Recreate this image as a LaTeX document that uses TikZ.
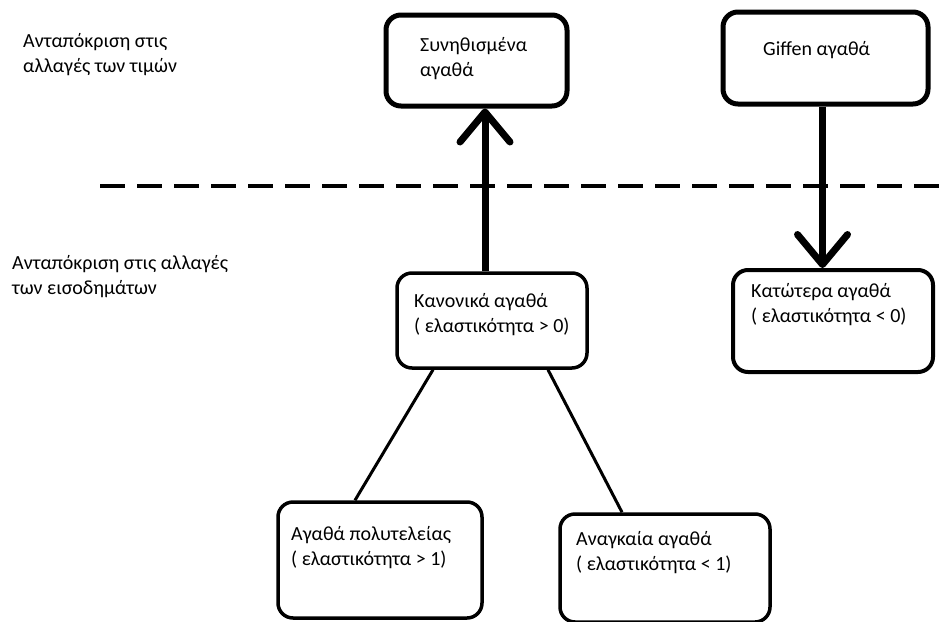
\documentclass[tikz,border=0pt]{standalone}
\usepackage{fontspec}
\setmainfont{Carlito}
\usetikzlibrary{arrows.meta,calc}
\begin{document}
\begin{tikzpicture}[x=1pt,y=-1pt,
  box/.style={draw=black, rounded corners=15pt, minimum width=#1, inner sep=0pt},
  thickbox/.style={line width=5pt},
  thinbox/.style={line width=3.5pt},
  lbl/.style={anchor=base west, align=left, inner sep=0pt, text=black,
    font=\fontsize{20}{25}\selectfont},
  side/.style={lbl},
  bigarrow/.style={line width=7pt, -{Straight Barb[length=30pt,width=50pt,round]}},
  link/.style={line width=3pt},
  sep/.style={line width=4pt, dash pattern=on 25pt off 12pt}]
\useasboundingbox (0,0) rectangle (939,621);

% boxes
\node[box=181pt, thickbox, minimum height=91pt] (syn) at (476.5,60.5) {};
\node[box=205pt, thickbox, minimum height=92pt] (giffen) at (825.5,58) {};
\node[box=190pt, thinbox, minimum height=95pt] (normal) at (492,320.5) {};
\node[box=200pt, line width=4pt, minimum height=102pt] (inferior) at (833,321) {};
\node[box=204pt, thinbox, minimum height=116pt] (luxury) at (380,560) {};
\node[box=210pt, thinbox, minimum height=108pt] (necess) at (665,568) {};

% texts (anchor = baseline of the last line)
\node[side] (t1) at (23,72) {Ανταπόκριση στις\\αλλαγές των τιμών};
\node[side] (t2) at (12,294) {Ανταπόκριση στις αλλαγές\\των εισοδημάτων};
\node[lbl] (tsyn) at (420,76) {Συνηθισμένα\\αγαθά};
\node[lbl] (tgif) at (763,55) {Giffen αγαθά};
\node[lbl] (tnor) at (414,332) {Κανονικά αγαθά\\( ελαστικότητα > 0)};
\node[lbl] (tinf) at (751,322) {Κατώτερα αγαθά\\( ελαστικότητα < 0)};
\node[lbl] (tlux) at (291,565) {Αγαθά πολυτελείας\\( ελαστικότητα > 1)};
\node[lbl] (tnec) at (576,570) {Αναγκαία αγαθά\\( ελαστικότητα < 1)};

% dashed separator
\coordinate (dl) at (100,186);
\coordinate (dr) at (945,186);
\draw[sep] (dl) -- (dr);

% thick arrows
\draw[bigarrow] ([xshift=-7pt]normal.north) -- ([xshift=-7pt]normal.north |- syn.south);
\draw[bigarrow] ([xshift=-3pt]giffen.south) -- ([xshift=-3pt]giffen.south |- inferior.north);

% links
\draw[link] ([xshift=-59pt]normal.south) -- ([xshift=-25pt]luxury.north);
\draw[link] ([xshift=56pt]normal.south) -- ([xshift=-43pt]necess.north);
\end{tikzpicture}
\end{document}
